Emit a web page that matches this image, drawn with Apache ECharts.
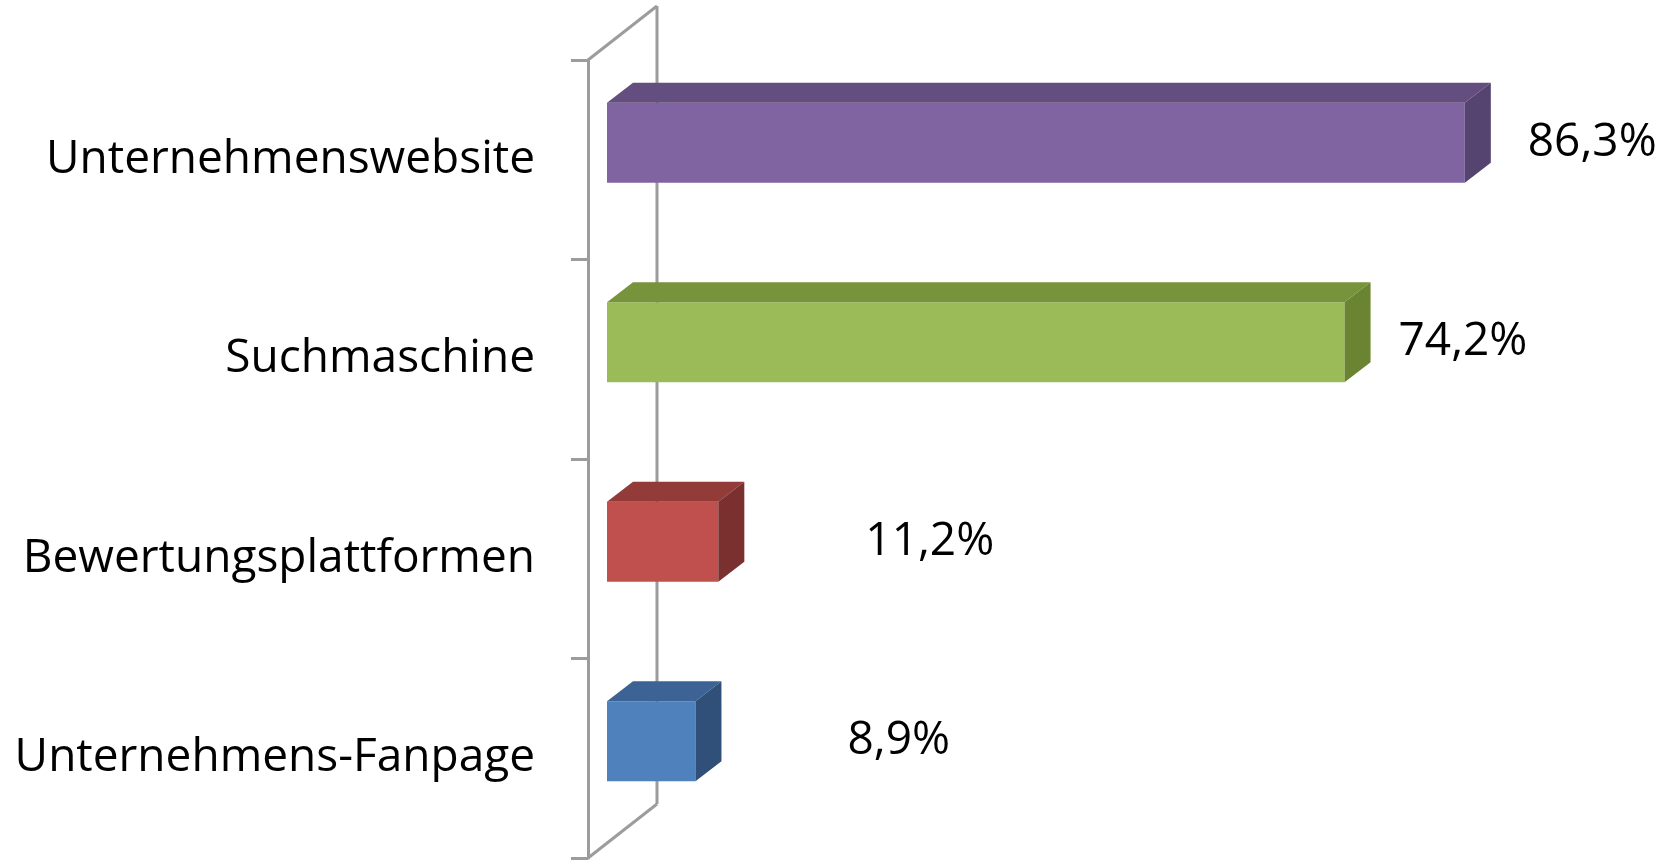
<!DOCTYPE html>
<html>
<head>
<meta charset="utf-8">
<script src="https://cdn.jsdelivr.net/npm/echarts@6/dist/echarts.min.js"></script>
<style>
	html, body { margin: 0; padding: 0; background: #fff; }
	#chart { width: 1671px; height: 861px; }
</style>
</head>
<body>
<div id="chart"></div>
<script>
// Daten
var categories = ['Unternehmenswebsite', 'Suchmaschine', 'Bewertungsplattformen', 'Unternehmens-Fanpage'];
var values = [86.3, 74.2, 11.2, 8.9];

// Farben pro Balken: Vorderseite, Oberseite, Seite
var faceColors = ['#8064A2', '#9BBB59', '#C0504D', '#4F81BD'];
var topColors = ['#634E7F', '#77933C', '#933B39', '#3C6393'];
var sideColors = ['#554370', '#6A8431', '#7A302E', '#30507A'];
// Abstand der Werte-Beschriftung hinter dem Balken (Excel setzt sie unregelmäßig)
var labelGaps = [37, 28, 121, 126];

var FONT = "'Open Sans', sans-serif";
var wallDepth = [69, -54]; // Tiefe der Rückwand
var barDepth = [26, -20];  // Tiefe eines Balkens
var barShift = [19, -17];  // Balken sitzt mittig in der Tiefe

var myChart = echarts.init(document.getElementById('chart'));

var option = {
	animation: false,
	grid: { left: 588, right: 89, top: 60, bottom: 3, containLabel: false, outerBoundsMode: 'none' },
	xAxis: {
		type: 'value',
		min: 0,
		max: 100,
		show: false
	},
	yAxis: {
		type: 'category',
		inverse: true,
		data: categories,
		axisLine: { show: true, lineStyle: { color: '#9c9c9c', width: 3 } },
		axisTick: { show: true, length: 17, lineStyle: { color: '#9c9c9c', width: 3 } },
		axisLabel: { margin: 53, color: '#000', fontSize: 46, fontFamily: FONT },
		splitLine: { show: false }
	},
	series: [
		{
			// Rückwand + Diagonalen
			type: 'custom',
			z: 1,
			silent: true,
			data: [0],
			renderItem: function (params, api) {
				var cs = params.coordSys;
				var st = { stroke: '#9c9c9c', lineWidth: 3 };
				var bx = cs.x + wallDepth[0];
				return {
					type: 'group',
					children: [
						{ type: 'line', shape: { x1: bx, y1: cs.y + wallDepth[1], x2: bx, y2: cs.y + cs.height + wallDepth[1] }, style: st },
						{ type: 'line', shape: { x1: cs.x, y1: cs.y, x2: bx, y2: cs.y + wallDepth[1] }, style: st },
						{ type: 'line', shape: { x1: cs.x, y1: cs.y + cs.height, x2: bx, y2: cs.y + cs.height + wallDepth[1] }, style: st }
					]
				};
			}
		},
		{
			type: 'custom',
			z: 2,
			encode: { x: 0, y: 1 },
			data: values.map(function (v, i) { return [v, i]; }),
			renderItem: function (params, api) {
				var i = params.dataIndex;
				var p0 = api.coord([0, api.value(1)]);
				var p1 = api.coord([api.value(0), api.value(1)]);
				var h = api.size([0, 1])[1] * 0.40;
				var x = p0[0] + barShift[0];
				var y = p0[1] + barShift[1] - h / 2;
				var w = p1[0] - p0[0];
				var dx = barDepth[0], dy = barDepth[1];
				var txt = String(api.value(0)).replace('.', ',') + '%';
				return {
					type: 'group',
					children: [
						{ type: 'rect', shape: { x: x, y: y, width: w, height: h }, style: { fill: faceColors[i] } },
						{ type: 'polygon', shape: { points: [[x, y], [x + dx, y + dy], [x + w + dx, y + dy], [x + w, y]] }, style: { fill: topColors[i] } },
						{ type: 'polygon', shape: { points: [[x + w, y], [x + w + dx, y + dy], [x + w + dx, y + h + dy], [x + w, y + h]] }, style: { fill: sideColors[i] } },
						{
							type: 'text',
							x: x + w + dx + labelGaps[i],
							y: y + h / 2,
							style: { text: txt, fill: '#000', font: '46px ' + FONT, textAlign: 'left', textVerticalAlign: 'middle' }
						}
					]
				};
			}
		}
	]
};
myChart.setOption(option);
</script>
</body>
</html>
